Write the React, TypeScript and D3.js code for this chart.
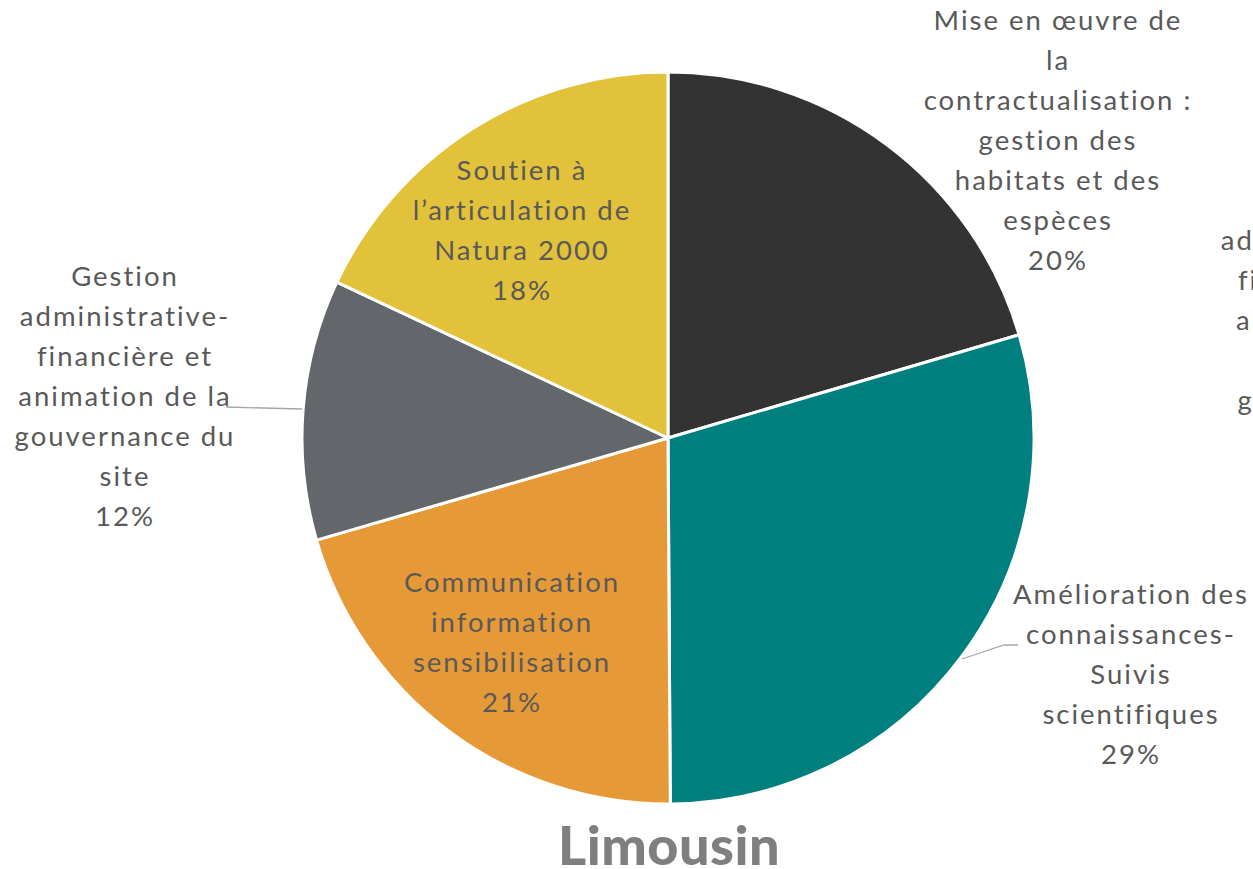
import React from "react";
import * as d3 from "d3";

// ---- data ----
const categories = [
  "Mise en œuvre de la contractualisation : gestion des habitats et des espèces",
  "Amélioration des connaissances-Suivis scientifiques",
  "Communication information sensibilisation",
  "Gestion administrative-financière et animation de la gouvernance du site",
  "Soutien à l’articulation de Natura 2000",
];
const values = [20.45, 29.45, 20.6, 11.5, 18.0];
const colors = ["#333333", "#007f7f", "#e69a37", "#63676b", "#e2c23a"];
const labelLines = [
  ["Mise en œuvre de", "la", "contractualisation :", "gestion des", "habitats et des", "espèces"],
  ["Amélioration des", "connaissances-", "Suivis", "scientifiques"],
  ["Communication", "information", "sensibilisation"],
  ["Gestion", "administrative-", "financière et", "animation de la", "gouvernance du", "site"],
  ["Soutien à", "l’articulation de", "Natura 2000"],
];
const title = "Limousin";
// clipped label of neighbouring chart at right edge
const neighbourLines = ["Gestion", "administrative-", "financière et", "animation de", "la", "gouvernance", "du site", "12%"];

// ---- layout ----
const W = 1253, H = 869;
const cx = 668, cy = 438, R = 366;
const lineH = 40;
const labelPos = [
  { x: 1057, y: 20 },
  { x: 1130, y: 594 },
  { x: 511, y: 582 },
  { x: 124, y: 276 },
  { x: 521, y: 170 },
];
const leaders: ([number, number][] | null)[] = [
  null,
  [[962, 659], [1004, 645], [1018, 645]],
  null,
  [[302, 409], [226, 407]],
  null,
];

export default function App() {
  const pie = d3.pie<number>().sort(null).value((d) => d);
  const arcs = pie(values);
  const arc = d3.arc<d3.PieArcDatum<number>>().innerRadius(0).outerRadius(R);
  const font = "Lato, 'Open Sans', sans-serif";
  const line = d3.line();
  const fs = 27.5;
  const ls = 2;
  return (
    <svg
      width={W}
      height={H}
      style={{ position: "absolute", left: 0, top: 0, background: "#fff" }}
      fontFamily={font}
    >
      <g transform={`translate(${cx},${cy})`}>
        {arcs.map((a, i) => (
          <path key={i} d={arc(a) || ""} fill={colors[i]} stroke="#fff" strokeWidth={3} strokeLinejoin="round" />
        ))}
      </g>
      {leaders.map((l, i) =>
        l ? <path key={i} d={line(l) || ""} fill="none" stroke="#a6a6a6" strokeWidth={1.3} /> : null
      )}
      {labelLines.map((lines, i) => {
        const pct = `${Math.round(values[i])}%`;
        const all = [...lines, pct];
        return (
          <text key={i} textAnchor="middle" fill="#595959" fontSize={fs} letterSpacing={ls}>
            {all.map((t, j) => (
              <tspan key={j} x={labelPos[i].x + ls / 2} y={labelPos[i].y + j * lineH} dy="0.35em">
                {t}
              </tspan>
            ))}
          </text>
        );
      })}
      <text textAnchor="middle" fill="#595959" fontSize={fs} letterSpacing={ls}>
        {neighbourLines.map((t, j) => (
          <tspan key={j} x={1326} y={200 + j * lineH} dy="0.35em">
            {t}
          </tspan>
        ))}
      </text>
      <text x={669} y={865} textAnchor="middle" fill="#7f7f7f" fontSize={54} fontWeight={900} letterSpacing={0.5}>
        {title}
      </text>
    </svg>
  );
}
